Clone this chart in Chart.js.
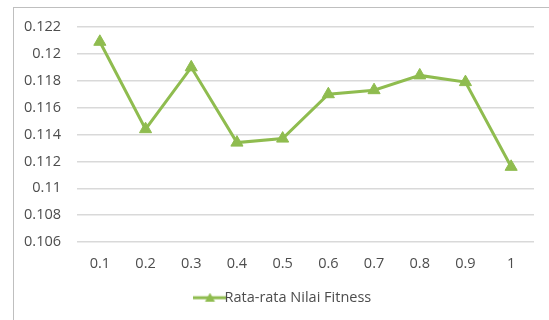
<!DOCTYPE html>
<html lang="en">
<head>
  <meta charset="UTF-8" />
  <title>Rata-rata Nilai Fitness</title>
  <script src="https://cdn.jsdelivr.net/npm/chart.js"></script>
  <style>
    html, body {
      margin: 0;
      padding: 0;
      background: #fff;
    }
    #wrap {
      position: relative;
      width: 549px;
      height: 320px;
      overflow: hidden;
    }
    #frame {
      position: absolute;
      left: 13px;
      top: 7px;
      width: 560px;
      height: 340px;
      border: 1px solid #bfbfbf;
    }
    canvas {
      position: absolute;
      left: 0;
      top: 0;
    }
  </style>
</head>
<body>
  <div id="wrap">
    <div id="frame"></div>
    <canvas id="fitnessChart" width="549" height="320"></canvas>
  </div>

  <script>
    const categories = ['0.1', '0.2', '0.3', '0.4', '0.5', '0.6', '0.7', '0.8', '0.9', '1'];
    const fitnessValues = [0.1209, 0.1144, 0.1190, 0.1134, 0.1137, 0.1170, 0.1173, 0.1184, 0.1179, 0.1116];
    const seriesName = 'Rata-rata Nilai Fitness';

    const green = '#8fbc4f';
    const textGrey = '#4d4d4d';
    const font = { family: 'Open Sans', size: 14.5 };

    // legend marker: short line with a small triangle in the middle
    function legendMarker() {
      const c = document.createElement('canvas');
      c.width = 33;
      c.height = 10;
      const g = c.getContext('2d');
      g.strokeStyle = green;
      g.lineWidth = 3;
      g.beginPath();
      g.moveTo(0, 5);
      g.lineTo(33, 5);
      g.stroke();
      g.fillStyle = green;
      g.beginPath();
      g.moveTo(16.5, 0);
      g.lineTo(21.5, 9);
      g.lineTo(11.5, 9);
      g.closePath();
      g.fill();
      return c;
    }

    // nudge the legend a little right and up, like the original
    const legendNudge = {
      id: 'legendNudge',
      afterLayout: chart => {
        const lg = chart.legend;
        lg.left += 20; lg.right += 20;
        lg.top -= 5; lg.bottom -= 5;
      }
    };

    const ctx = document.getElementById('fitnessChart').getContext('2d');

    new Chart(ctx, {
      type: 'line',
      data: {
        labels: categories,
        datasets: [{
          label: seriesName,
          data: fitnessValues,
          borderColor: green,
          backgroundColor: green,
          borderWidth: 3,
          pointStyle: 'triangle',
          pointRadius: 7,
          pointBorderWidth: 1,
          tension: 0
        }]
      },
      options: {
        responsive: false,
        animation: false,
        layout: {
          padding: { left: 0, right: 15, top: 27, bottom: 0 }
        },
        scales: {
          x: {
            offset: true,
            grid: { display: false, drawTicks: false },
            border: { display: false },
            ticks: {
              color: textGrey,
              padding: 13,
              maxRotation: 0,
              font: font
            }
          },
          y: {
            min: 0.106,
            max: 0.122,
            afterFit: scale => { scale.width = 77; },
            grid: { color: '#d9d9d9', lineWidth: 1.5, drawTicks: false },
            border: { display: false },
            ticks: {
              stepSize: 0.002,
              color: textGrey,
              padding: 16,
              font: font,
              callback: v => String(+v.toFixed(3))
            }
          }
        },
        plugins: {
          legend: {
            position: 'bottom',
            labels: {
              color: textGrey,
              font: font,
              usePointStyle: true,
              padding: 10,
              generateLabels: () => [{
                text: seriesName,
                pointStyle: legendMarker(),
                fontColor: textGrey,
                datasetIndex: 0
              }]
            }
          },
          tooltip: { enabled: false }
        }
      },
      plugins: [legendNudge]
    });
  </script>
</body>
</html>
